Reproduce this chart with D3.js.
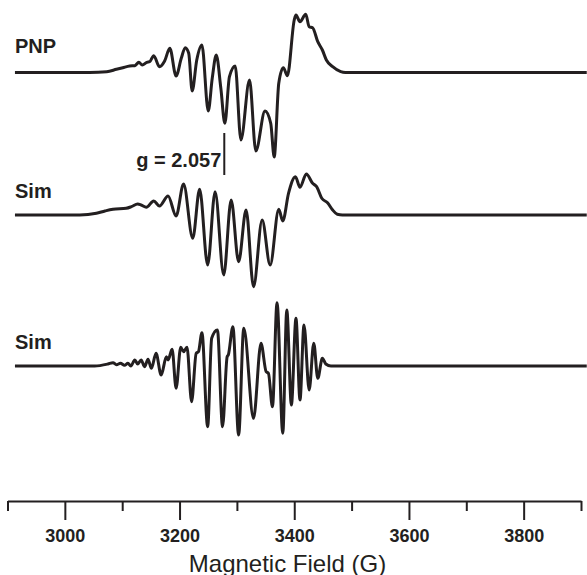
<!DOCTYPE html>
<html>
<head>
<meta charset="utf-8">
<script src="https://cdn.jsdelivr.net/npm/d3@7"></script>
<style>
  html, body { margin: 0; padding: 0; background: #fff; }
  svg { display: block; font-family: "Liberation Sans", Arial, Helvetica, sans-serif; }
</style>
</head>
<body>
<div id="chart"></div>
<script>
// EPR spectra: field (G) / derivative intensity (a.u.)
const pnpField = [2913, 3043, 3073, 3090, 3101, 3113, 3122, 3129, 3135, 3143, 3148, 3155, 3165, 3174, 3183, 3194,
  3203, 3210, 3216, 3222, 3230, 3239, 3250, 3257, 3264, 3272, 3279, 3287, 3297, 3307, 3322, 3333, 3349, 3359,
  3365, 3373, 3381, 3388, 3400, 3403, 3410, 3420, 3426, 3432, 3441, 3449, 3456, 3467, 3481, 3489, 3910];
const pnpSignal = [0, 0, 0.8, 3.2, 4.8, 6.5, 6.8, 10.2, 7.5, 10.2, 10.8, 16.8, 5.8, 11.5, 24.2, -3.5,
  14.2, 24.8, 19.2, -18.5, 12.5, 27.5, -38.5, -5.8, 17.5, -15.8, -50.8, -4.2, 6.5, -67.5, -7.5, -78.5, -38.5, -50.8,
  -84.5, -10.8, 4.8, -3.2, 52.5, 57.5, 50.8, 58.2, 45.8, 44.8, 30.8, 22.5, 12.5, 5.8, 0.8, 0, 0];

const sim1Field = [2913, 3026, 3055, 3070, 3084, 3107, 3116, 3127, 3133, 3142, 3155, 3165, 3180, 3194, 3207, 3223,
  3235, 3249, 3262, 3277, 3290, 3303, 3316, 3329, 3344, 3358, 3373, 3380, 3390, 3402, 3410, 3421, 3432, 3439,
  3448, 3458, 3467, 3475, 3484, 3910];
const sim1Signal = [0, 0, 1.7, 4, 5.7, 6.7, 8.3, 11, 10, 7.7, 14, 9, 19, -1, 31, -23.3,
  25.7, -50, 23.3, -60, 15, -46.7, 5, -71.7, -5, -50, 5.7, -6, 21.7, 38.3, 27.7, 41, 31.7, 28.3,
  16.7, 12.3, 5, 0.7, 0, 0];

const sim2Field = [2913, 3052, 3075, 3084, 3090, 3097, 3104, 3110, 3115, 3122, 3127, 3133, 3139, 3145, 3151, 3159,
  3168, 3177, 3180, 3187, 3194, 3202, 3207, 3213, 3221, 3229, 3233, 3239, 3249, 3256, 3266, 3275, 3283, 3285,
  3293, 3303, 3312, 3329, 3342, 3351, 3355, 3362, 3370, 3380, 3387, 3395, 3403, 3410, 3417, 3426, 3434, 3441,
  3449, 3455, 3464, 3910];
const sim2Signal = [0, 0, 2, 3.3, 1.3, 2.7, 0.7, 2.7, 0, 6, 2, 6, -0.7, 6.7, -2.3, 12.7,
  -9, 9.3, 6, 16.7, -22.3, 18.7, 14.3, 18.7, -35.7, 12.7, 14.3, 33.3, -60.7, 27.7, 36, -60.7, 9.3, 11,
  39.3, -69, 37.7, -52.3, 22.7, -5.7, -7.3, -40.7, 63.3, -67.3, 56, -39, 47.7, -34, 41, -24, 22.7, -12.3,
  7.7, 2, 0, 0];

const traceLabels = ["PNP", "Sim", "Sim"];
const majorTicks = [3000, 3200, 3400, 3600, 3800];
const minorTicks = [2900, 3100, 3300, 3500, 3700, 3900];
const gMarkerField = 3278;
const gMarkerLabel = "g = 2.057";
const xTitle = "Magnetic Field (G)";

const width = 587, height = 575;
const ink = "#231f20";

const svg = d3.select("#chart").append("svg")
  .attr("width", width)
  .attr("height", height);

const x = d3.scaleLinear().domain([2900, 3900]).range([7.5, 581]);
// 1 a.u. per px, each trace sits on its own baseline
const amp = d3.scaleLinear().domain([-100, 100]).range([100, -100]);
const baselines = [72.5, 215, 366];
const labelShift = [-19.5, -17, -17];

const traces = [
  d3.zip(pnpField, pnpSignal),
  d3.zip(sim1Field, sim1Signal),
  d3.zip(sim2Field, sim2Signal)
];

const line = d3.line()
  .x(d => x(d[0]))
  .y(d => amp(d[1]))
  .curve(d3.curveMonotoneX);

traces.forEach((data, i) => {
  const g = svg.append("g").attr("transform", `translate(0,${baselines[i]})`);
  g.append("path")
    .datum(data)
    .attr("fill", "none")
    .attr("stroke", ink)
    .attr("stroke-width", 3)
    .attr("stroke-linejoin", "round")
    .attr("d", line);
  g.append("text")
    .attr("x", 15)
    .attr("y", labelShift[i])
    .attr("font-size", 20)
    .attr("font-weight", "bold")
    .attr("fill", ink)
    .text(traceLabels[i]);
});

// g-value marker
const gx = x(gMarkerField);
svg.append("line")
  .attr("x1", gx).attr("x2", gx)
  .attr("y1", 133).attr("y2", 175)
  .attr("stroke", ink)
  .attr("stroke-width", 2);
svg.append("text")
  .attr("x", gx - 3)
  .attr("y", 166.5)
  .attr("text-anchor", "end")
  .attr("font-size", 20)
  .attr("font-weight", "bold")
  .attr("fill", ink)
  .text(gMarkerLabel);

// axis
const axisY = 501;
const xAxis = svg.append("g")
  .attr("transform", `translate(0,${axisY})`)
  .call(d3.axisBottom(x).tickValues(majorTicks).tickSize(19).tickSizeOuter(0).tickPadding(9).tickFormat(d3.format("d")));
xAxis.append("g")
  .call(d3.axisBottom(x).tickValues(minorTicks).tickSize(10).tickSizeOuter(0).tickFormat(""))
  .select(".domain").remove();
xAxis.selectAll(".domain, .tick line")
  .attr("stroke", ink)
  .attr("stroke-width", 2);
xAxis.selectAll(".tick text")
  .attr("font-size", 18)
  .attr("font-weight", "bold")
  .attr("font-family", "Liberation Sans, Arial, sans-serif")
  .attr("fill", ink);

svg.append("text")
  .attr("x", 287.5)
  .attr("y", 571.5)
  .attr("text-anchor", "middle")
  .attr("font-size", 24)
  .attr("fill", ink)
  .text(xTitle);
</script>
</body>
</html>
